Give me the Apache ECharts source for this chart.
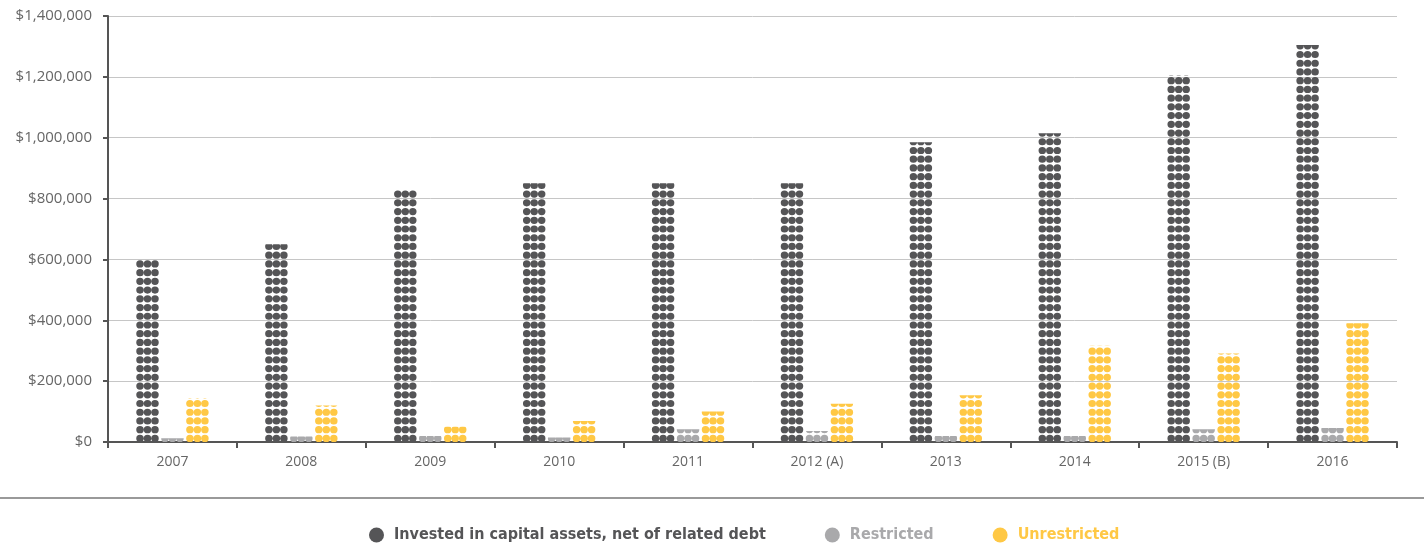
<!DOCTYPE html>
<html>
<head>
<meta charset="utf-8">
<script src="https://cdn.jsdelivr.net/npm/echarts@6/dist/echarts.min.js"></script>
<style>
html,body{margin:0;padding:0;background:#fff;}
#c{width:1424px;height:546px;}
</style>
</head>
<body>
<div id="c"></div>
<script>
const categories = ['2007','2008','2009','2010','2011','2012 (A)','2013','2014','2015 (B)','2016'];
const investedValues = [600000, 650000, 830000, 850000, 850000, 850000, 985000, 1015000, 1205000, 1305000];
const restrictedValues = [12000, 18000, 20000, 15000, 42000, 36000, 20000, 20000, 42000, 46000];
const unrestrictedValues = [145000, 120000, 50000, 69000, 100000, 126000, 154000, 316000, 291000, 390000];
const seriesNames = ['Invested in capital assets, net of related debt', 'Restricted', 'Unrestricted'];
const yTicks = {min: 0, max: 1400000, interval: 200000};

const colors = ['#555557', '#a9a9ab', '#ffc845'];
const dots = 'path://M0,4a4,4 0 1,0 8,0a4,4 0 1,0 -8,0M8,4a4,4 0 1,0 8,0a4,4 0 1,0 -8,0M16,4a4,4 0 1,0 8,0a4,4 0 1,0 -8,0';
const labelFont = "'Open Sans', sans-serif";

function pic(name, data, color) {
  return {
    name: name,
    type: 'pictorialBar',
    data: data,
    barWidth: 24,
    barGap: '4%',
    symbol: dots,
    symbolSize: [22.5, 7.2],
    symbolMargin: 0.8,
    symbolRepeat: 'fixed',
    symbolClip: true,
    symbolBoundingData: yTicks.max,
    itemStyle: {color: color},
    z: 3
  };
}

const chart = echarts.init(document.getElementById('c'));
chart.setOption({
  animation: false,
  color: colors,
  grid: {left: 108, right: 27, top: 16, bottom: 104, containLabel: false},
  xAxis: {
    type: 'category',
    data: categories,
    axisLine: {lineStyle: {color: '#555', width: 2}},
    axisTick: {show: true, length: 6, lineStyle: {color: '#555', width: 2}},
    axisLabel: {color: '#666', fontSize: 14, fontFamily: labelFont, margin: 13}
  },
  yAxis: {
    type: 'value',
    min: yTicks.min, max: yTicks.max, interval: yTicks.interval,
    axisLine: {show: true, lineStyle: {color: '#555', width: 2}},
    axisTick: {show: true, length: 5, lineStyle: {color: '#555', width: 2}},
    splitLine: {lineStyle: {color: '#c6c6c6', width: 1}},
    axisLabel: {
      color: '#666', fontSize: 15, fontFamily: labelFont, margin: 16,
      formatter: v => '$' + v.toLocaleString('en-US')
    }
  },
  legend: {
    top: 527,
    left: 369,
    icon: 'circle',
    itemWidth: 25, itemHeight: 15,
    itemGap: 59,
    padding: 0,
    textStyle: {fontFamily: "'DejaVu Sans Condensed', sans-serif", fontWeight: 'bold', fontSize: 16},
    data: seriesNames.map((n, i) => ({name: n, textStyle: {color: colors[i]}}))
  },
  graphic: [{
    type: 'line',
    shape: {x1: 0, y1: 498, x2: 1424, y2: 498},
    style: {stroke: '#999', lineWidth: 2}
  }],
  series: [
    pic(seriesNames[0], investedValues, colors[0]),
    pic(seriesNames[1], restrictedValues, colors[1]),
    pic(seriesNames[2], unrestrictedValues, colors[2])
  ]
});
</script>
</body>
</html>
